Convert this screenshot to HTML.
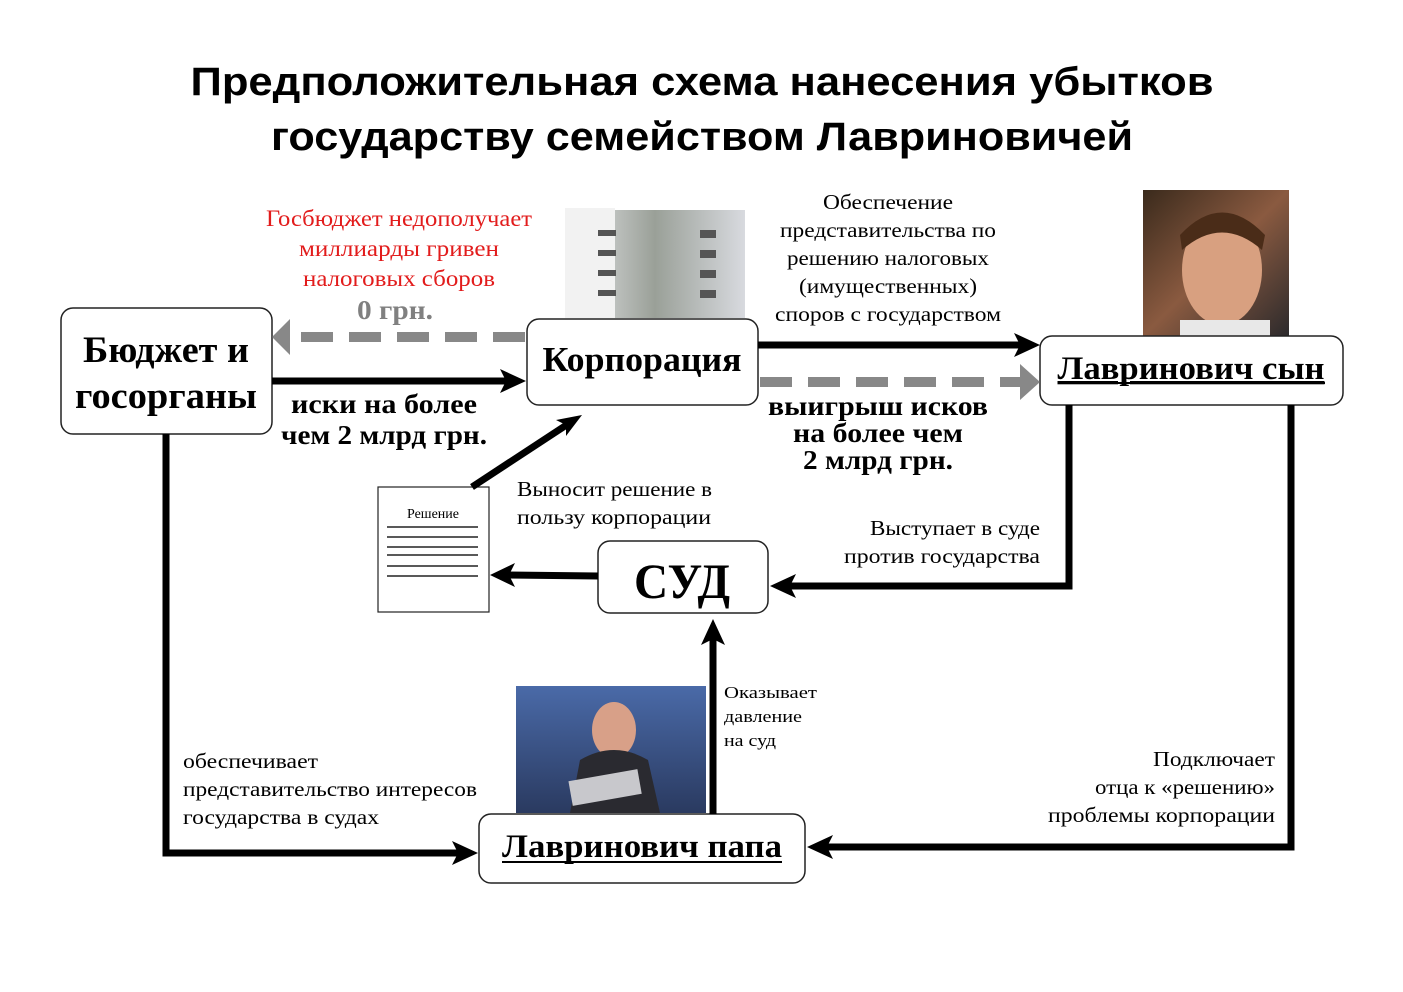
<!DOCTYPE html>
<html><head><meta charset="utf-8"><style>
html,body{margin:0;padding:0;background:#fff}
svg{display:block}
.t{font-family:"Liberation Serif",serif}
.s{font-family:"Liberation Sans",sans-serif}
</style></head><body>
<svg width="1403" height="992" viewBox="0 0 1403 992" xmlns="http://www.w3.org/2000/svg">
<defs>
<linearGradient id="bld" x1="0" y1="0" x2="1" y2="0"><stop offset="0" stop-color="#e8e8ec"/><stop offset="0.5" stop-color="#9aa098"/><stop offset="1" stop-color="#d8dadf"/></linearGradient>
<linearGradient id="son" x1="0" y1="0" x2="1" y2="1"><stop offset="0" stop-color="#3a2a1c"/><stop offset="0.5" stop-color="#8a5a40"/><stop offset="1" stop-color="#2c2a2c"/></linearGradient>
<linearGradient id="papa" x1="0" y1="0" x2="0" y2="1"><stop offset="0" stop-color="#4a6aa8"/><stop offset="1" stop-color="#2a3a60"/></linearGradient>
</defs>
<!-- title -->
<text class="s" x="702" y="95" font-size="40" font-weight="bold" text-anchor="middle" textLength="1023" lengthAdjust="spacingAndGlyphs">Предположительная схема нанесения убытков</text>
<text class="s" x="702" y="150" font-size="40" font-weight="bold" text-anchor="middle" textLength="862" lengthAdjust="spacingAndGlyphs">государству семейством Лавриновичей</text>

<!-- images -->
<g>
<rect x="565" y="210" width="180" height="108" fill="url(#bld)"/>
<rect x="565" y="208" width="50" height="110" fill="#f2f2f2"/>
<g fill="#555"><rect x="598" y="230" width="18" height="6"/><rect x="598" y="250" width="18" height="6"/><rect x="598" y="270" width="18" height="6"/><rect x="598" y="290" width="18" height="6"/>
<rect x="700" y="230" width="16" height="8"/><rect x="700" y="250" width="16" height="8"/><rect x="700" y="270" width="16" height="8"/><rect x="700" y="290" width="16" height="8"/></g>
</g>
<rect x="1143" y="190" width="146" height="146" fill="url(#son)"/>
<ellipse cx="1222" cy="270" rx="40" ry="55" fill="#d8a080"/>
<path d="M1180 235 Q1222 190 1265 235 L1262 250 Q1222 215 1182 250Z" fill="#4a2c18"/>
<rect x="1180" y="320" width="90" height="16" fill="#e8e8e8"/>
<rect x="516" y="686" width="190" height="127" fill="url(#papa)"/>
<ellipse cx="614" cy="730" rx="22" ry="28" fill="#d8a088"/>
<path d="M570 813 L580 760 Q614 740 648 760 L660 813Z" fill="#2a2a30"/>
<rect x="570" y="775" width="70" height="25" fill="#c8c8cc" transform="rotate(-10 605 787)"/>

<!-- boxes -->
<g fill="#fff" stroke="#222" stroke-width="1.5">
<rect x="61" y="308" width="211" height="126" rx="12"/>
<rect x="527" y="319" width="231" height="86" rx="12"/>
<rect x="1040" y="336" width="303" height="69" rx="12"/>
<rect x="598" y="541" width="170" height="72" rx="12"/>
<rect x="479" y="814" width="326" height="69" rx="12"/>
<rect x="378" y="487" width="111" height="125" stroke-width="1.2"/>
</g>
<g stroke="#222" stroke-width="1.5">
<line x1="387" y1="527" x2="478" y2="527"/><line x1="387" y1="537" x2="478" y2="537"/><line x1="387" y1="547" x2="478" y2="547"/><line x1="387" y1="555" x2="478" y2="555"/><line x1="387" y1="566" x2="478" y2="566"/><line x1="387" y1="576" x2="478" y2="576"/>
</g>
<text class="t" x="433" y="518" font-size="14" text-anchor="middle">Решение</text>

<text class="t" x="166" y="362" font-size="37" font-weight="bold" text-anchor="middle" textLength="166" lengthAdjust="spacingAndGlyphs">Бюджет и</text>
<text class="t" x="166" y="408" font-size="37" font-weight="bold" text-anchor="middle" textLength="182" lengthAdjust="spacingAndGlyphs">госорганы</text>
<text class="t" x="642" y="371" font-size="35" font-weight="bold" text-anchor="middle" textLength="199" lengthAdjust="spacingAndGlyphs">Корпорация</text>
<text class="t" x="1191" y="379" font-size="33" font-weight="bold" text-anchor="middle" textLength="267" lengthAdjust="spacingAndGlyphs" text-decoration="underline">Лавринович сын</text>
<line x1="1058" y1="383" x2="1325" y2="383" stroke="#000" stroke-width="2"/>
<text class="t" x="682" y="598" font-size="50" font-weight="bold" text-anchor="middle" textLength="96" lengthAdjust="spacingAndGlyphs">СУД</text>
<text class="t" x="642" y="857" font-size="33" font-weight="bold" text-anchor="middle" textLength="280" lengthAdjust="spacingAndGlyphs">Лавринович папа</text>
<line x1="502" y1="862" x2="782" y2="862" stroke="#000" stroke-width="2"/>

<!-- connectors -->
<g stroke="#888" stroke-width="10" stroke-dasharray="32 16">
<line x1="525" y1="337" x2="290" y2="337"/>
<line x1="760" y1="382" x2="1020" y2="382"/>
</g>
<polygon points="272,337 290,319 290,355" fill="#888"/>
<polygon points="1040,382 1020,364 1020,400" fill="#888"/>

<g stroke="#000" stroke-width="7" fill="none">
<line x1="272" y1="381" x2="508" y2="381"/>
<line x1="758" y1="345" x2="1022" y2="345"/>
<line x1="472" y1="487" x2="568" y2="424"/>
<line x1="598" y1="576" x2="508" y2="575"/>
<polyline points="1069,405 1069,586 790,586"/>
<polyline points="1291,405 1291,847 826,847"/>
<line x1="713" y1="814" x2="713" y2="638"/>
<polyline points="166,434 166,853 458,853"/>
</g>
<g fill="#000">
<polygon points="526,381 500,369 506,381 500,393"/>
<polygon points="1040,345 1014,333 1020,345 1014,357"/>
<polygon points="582,415 556,420 566,425 566,436"/>
<polygon points="490,575 515,563 509,575 515,587"/>
<polygon points="770,586 796,574 790,586 796,598"/>
<polygon points="807,847 833,835 827,847 833,859"/>
<polygon points="713,619 701,645 713,639 725,645"/>
<polygon points="478,853 452,841 458,853 452,865"/>
</g>

<!-- labels -->
<g class="t" fill="#e21c1c" font-size="23" text-anchor="middle">
<text x="399" y="226" textLength="266" lengthAdjust="spacingAndGlyphs">Госбюджет недополучает</text>
<text x="399" y="256" textLength="200" lengthAdjust="spacingAndGlyphs">миллиарды гривен</text>
<text x="399" y="286" textLength="192" lengthAdjust="spacingAndGlyphs">налоговых сборов</text>
</g>
<text class="t" x="395" y="319" font-size="27" font-weight="bold" fill="#808080" text-anchor="middle" textLength="76" lengthAdjust="spacingAndGlyphs">0 грн.</text>
<g class="t" font-size="27" font-weight="bold" text-anchor="middle">
<text x="384" y="413" textLength="186" lengthAdjust="spacingAndGlyphs">иски на более</text>
<text x="384" y="444" textLength="206" lengthAdjust="spacingAndGlyphs">чем 2 млрд грн.</text>
<text x="878" y="415" textLength="220" lengthAdjust="spacingAndGlyphs">выигрыш исков</text>
<text x="878" y="442" textLength="170" lengthAdjust="spacingAndGlyphs">на более чем</text>
<text x="878" y="469" textLength="150" lengthAdjust="spacingAndGlyphs">2 млрд грн.</text>
</g>
<g class="t" font-size="21" text-anchor="middle">
<text x="888" y="209" textLength="130" lengthAdjust="spacingAndGlyphs">Обеспечение</text>
<text x="888" y="237" textLength="216" lengthAdjust="spacingAndGlyphs">представительства по</text>
<text x="888" y="265" textLength="202" lengthAdjust="spacingAndGlyphs">решению налоговых</text>
<text x="888" y="293" textLength="178" lengthAdjust="spacingAndGlyphs">(имущественных)</text>
<text x="888" y="321" textLength="226" lengthAdjust="spacingAndGlyphs">споров с государством</text>
</g>
<g class="t" font-size="21">
<text x="517" y="496" textLength="195" lengthAdjust="spacingAndGlyphs">Выносит решение в</text>
<text x="517" y="524" textLength="194" lengthAdjust="spacingAndGlyphs">пользу корпорации</text>
<text x="183" y="768" textLength="135" lengthAdjust="spacingAndGlyphs">обеспечивает</text>
<text x="183" y="796" textLength="294" lengthAdjust="spacingAndGlyphs">представительство интересов</text>
<text x="183" y="824" textLength="196" lengthAdjust="spacingAndGlyphs">государства в судах</text>
</g>
<g class="t" font-size="21" text-anchor="end">
<text x="1040" y="535" textLength="170" lengthAdjust="spacingAndGlyphs">Выступает в суде</text>
<text x="1040" y="563" textLength="196" lengthAdjust="spacingAndGlyphs">против государства</text>
<text x="1275" y="766" textLength="122" lengthAdjust="spacingAndGlyphs">Подключает</text>
<text x="1275" y="794" textLength="180" lengthAdjust="spacingAndGlyphs">отца к «решению»</text>
<text x="1275" y="822" textLength="227" lengthAdjust="spacingAndGlyphs">проблемы корпорации</text>
</g>
<g class="t" font-size="17">
<text x="724" y="698" textLength="93" lengthAdjust="spacingAndGlyphs">Оказывает</text>
<text x="724" y="722" textLength="78" lengthAdjust="spacingAndGlyphs">давление</text>
<text x="724" y="746" textLength="52" lengthAdjust="spacingAndGlyphs">на суд</text>
</g>
</svg>
</body></html>
